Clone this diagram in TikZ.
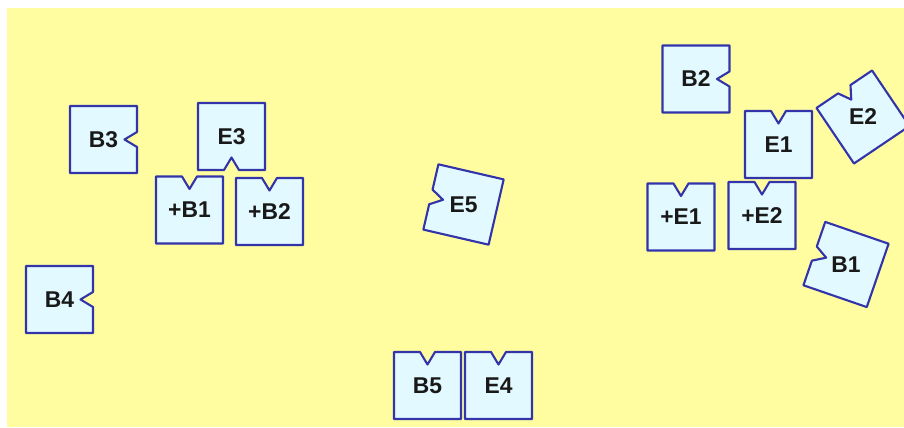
\documentclass[tikz,border=0pt]{standalone}
\usepackage{fontspec}
\setmainfont{Liberation Sans}
\usepackage{tikz}

\definecolor{paper}{RGB}{255,253,160}
\definecolor{tilefill}{RGB}{226,250,255}
\definecolor{tileedge}{RGB}{52,52,170}

\begin{document}
\begin{tikzpicture}[
    every node/.style={font=\bfseries\fontsize{13}{15}\selectfont, text=black!90},
    tileline/.style={draw=tileedge, fill=tilefill, line width=1.2pt, line join=round},
    tile/.pic={
        \draw[tileline] (-0.67,0.67) -- (-0.15,0.67) -- (0,0.42) -- (0.15,0.67)
            -- (0.67,0.67) -- (0.67,-0.67) -- (-0.67,-0.67) -- cycle;
        \node (-label) at (0,0) {#1};
    }
]

\useasboundingbox (0,0) rectangle (18.08,8.54);
\fill[paper] (0.14,0) rectangle (18.08,8.38);

\begin{scope}
\clip (0.14,0) rectangle (18.08,8.38);

\pic[rotate=-90] (b3) at (2.07,5.75) {tile=B3};
\pic[rotate=180] (e3) at (4.63,5.81) {tile=E3};
\pic (pb1) at (3.79,4.34) {tile=+B1};
\pic (pb2) at (5.39,4.31) {tile=+B2};
\pic[rotate=-90] (b4) at (1.19,2.55) {tile=B4};

\pic[rotate=77] (e5) at (9.27,4.45) {tile=E5};

\pic (b5) at (8.55,0.83) {tile=B5};
\pic (e4) at (9.97,0.83) {tile=E4};

\pic[rotate=-90] (b2) at (13.92,6.96) {tile=B2};
\pic (e1) at (15.57,5.65) {tile=E1};
\pic[rotate=34] (e2) at (17.26,6.20) {tile=E2};
\pic (pe1) at (13.62,4.20) {tile=+E1};
\pic (pe2) at (15.24,4.23) {tile=+E2};
\pic[rotate=71] (b1) at (16.92,3.25) {tile=B1};
\end{scope}

\end{tikzpicture}
\end{document}
